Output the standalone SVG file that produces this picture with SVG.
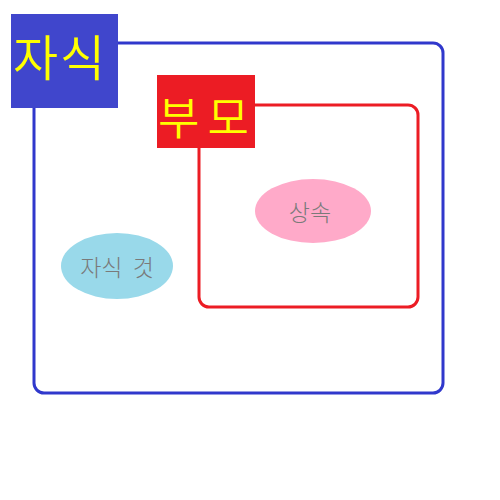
<svg xmlns="http://www.w3.org/2000/svg" width="500" height="500" viewBox="0 0 500 500">
<style>
.lbl{font-family:"Noto Sans CJK KR","Noto Sans",sans-serif;fill:#ffff00;font-weight:350}
.el{font-family:"Noto Sans CJK KR","Noto Sans",sans-serif;fill:#7a7a7a;font-size:23px;font-weight:300;text-anchor:middle}
</style>
<rect width="500" height="500" fill="#ffffff"/>
<g id="child">
<rect x="34" y="43" width="409" height="350" rx="10" fill="none" stroke="#3038cc" stroke-width="3"/>
<rect x="11" y="14" width="107" height="94" fill="#4046cc"/>
<text class="lbl" x="13" y="76" font-size="49" letter-spacing="2">자식</text>
</g>
<g id="parent">
<rect x="199" y="105" width="219" height="202" rx="10" fill="none" stroke="#ec1c24" stroke-width="3"/>
<rect x="157" y="75" width="98" height="73" fill="#ec1c24"/>
<text class="lbl" x="158" y="135" font-size="45" letter-spacing="8">부모</text>
</g>
<g id="inherit">
<ellipse cx="313" cy="211" rx="58" ry="32" fill="#ffaac9"/>
<text class="el" x="310" y="221">상속</text>
</g>
<g id="childown">
<ellipse cx="117" cy="266" rx="56" ry="33" fill="#99d9ea"/>
<text class="el" x="117" y="276" xml:space="preserve">자식  것</text>
</g>
<g id="connectors"></g>
</svg>
